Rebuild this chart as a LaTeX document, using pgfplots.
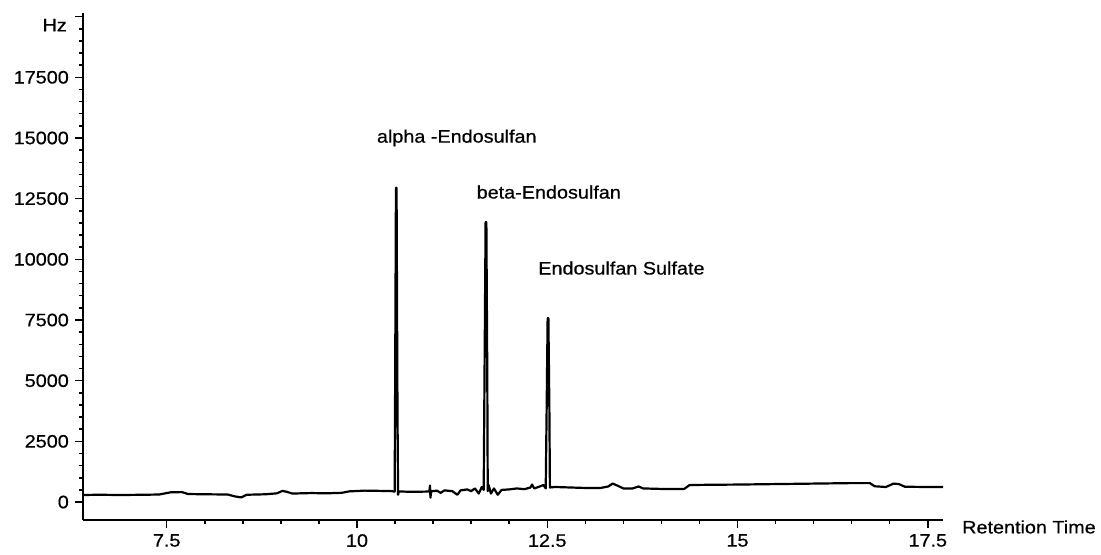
\documentclass[border=0pt]{standalone}
\usepackage{fontspec}
\setmainfont{Liberation Sans}[FakeStretch=1.1, FakeBold=0.6]
\usepackage{pgfplots}
\pgfplotsset{compat=1.18}
\begin{document}
\fontsize{18bp}{21bp}\selectfont
\begin{tikzpicture}
\begin{axis}[
  scale only axis,
  width=860bp, height=507bp,
  xmin=6.40, xmax=17.70,
  ymin=-740, ymax=20150,
  scaled y ticks=false, scaled x ticks=false,
  axis x line=bottom, axis y line=left,
  axis line style={-, line width=2bp},
  xtick={7.5,10,12.5,15,17.5},
  xticklabels={7.5,10,12.5,15,17.5},
  ytick={0,2500,5000,7500,10000,12500,15000,17500,20000},
  yticklabels={0,2500,5000,7500,10000,12500,15000,17500,{}},
  minor x tick num=4, minor y tick num=4,
  tick align=outside,
  major tick length=8bp, minor tick length=4bp,
  every tick/.style={black, line width=1.5bp},
  /pgf/number format/assume math mode=true,
  tick label style={font=\fontsize{18bp}{21bp}\selectfont},
  clip=false,
]
\addplot[black, line width=2.2bp, line join=round] coordinates {
(6.40,290) (6.60,300) (6.90,290) (7.20,300) (7.40,310) (7.55,400) (7.70,410) (7.78,330)
(8.00,320) (8.30,310) (8.40,230) (8.48,190) (8.55,300) (8.80,320) (8.95,360) (9.02,460)
(9.08,420) (9.15,350) (9.40,370) (9.60,360) (9.80,380) (9.90,440) (10.10,470) (10.30,460)
(10.45,450) (10.495,430)
(10.500,3800) (10.512,12950) (10.520,12950) (10.532,3800) (10.540,300)
(10.550,440) (10.70,420) (10.90,430) (10.95,440) (10.96,680) (10.965,180) (10.975,440)
(11.05,470) (11.10,380) (11.15,480) (11.25,450) (11.32,300) (11.36,480) (11.45,520)
(11.50,450) (11.55,560) (11.60,350) (11.64,620) (11.665,500)
(11.676,5300) (11.690,11530) (11.700,11530) (11.712,5300) (11.718,450)
(11.73,700) (11.76,350) (11.80,560) (11.85,300) (11.90,500) (12.00,520) (12.10,560)
(12.20,530) (12.28,600) (12.30,720) (12.33,560) (12.40,640) (12.45,700) (12.48,560)
(12.492,3800) (12.505,7580) (12.515,7580) (12.528,3800) (12.535,600)
(12.60,620) (12.80,600) (13.00,580) (13.20,580) (13.30,640) (13.36,760) (13.42,680)
(13.50,560) (13.62,560) (13.70,640) (13.76,560) (14.00,540) (14.30,540) (14.37,700)
(14.60,710) (15.00,720) (15.50,740) (16.00,760) (16.50,780) (16.74,780) (16.80,650)
(16.95,620) (17.05,760) (17.12,740) (17.20,630) (17.50,620) (17.70,620)
};
\node[anchor=west, inner sep=0pt] at (axis cs:10.26,15000) {alpha -Endosulfan};
\node[anchor=west, inner sep=0pt] at (axis cs:11.57,12770) {beta-Endosulfan};
\node[anchor=west, inner sep=0pt] at (axis cs:12.38,9640) {Endosulfan Sulfate};
\node[anchor=east, inner sep=0pt] at (axis cs:6.40,19650) [xshift=-16bp] {Hz};
\node[anchor=west, inner sep=0pt] at (axis cs:17.70,-740) [xshift=19bp, yshift=-7bp] {Retention Time};
\end{axis}
\path[use as bounding box] ([shift={(-83bp,-35bp)}]current axis.south west) rectangle ([shift={(1018bp,520bp)}]current axis.south west);
\end{tikzpicture}
\end{document}
